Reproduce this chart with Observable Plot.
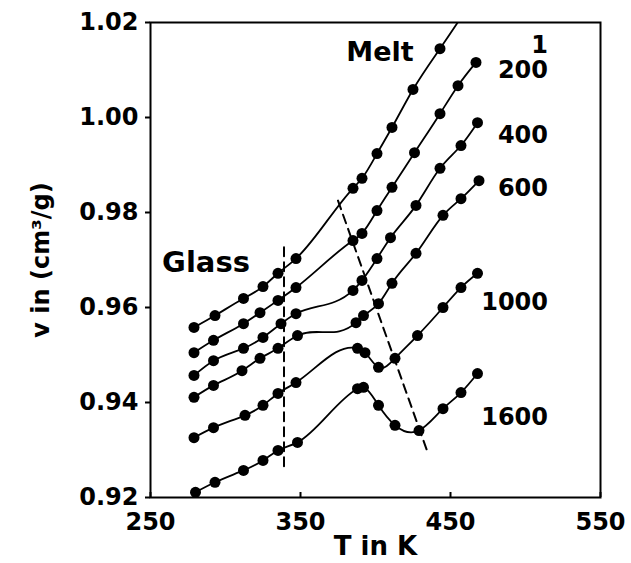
<!DOCTYPE html>
<html>
<head>
<meta charset="utf-8">
<script src="https://cdn.jsdelivr.net/npm/d3@7"></script>
<script src="https://cdn.jsdelivr.net/npm/@observablehq/plot@0.6"></script>
<style>
  html, body { margin: 0; padding: 0; background: #fff; }
  #chart svg { display: block; }
</style>
</head>
<body>
<div id="chart"></div>
<script>
// ---- data ----
const seriesNames = ["1", "200", "400", "600", "1000", "1600"];

const T_1    = [279, 293, 312, 325, 335, 347, 385, 391, 401, 411, 425, 443, 459];
const v_1    = [0.9558, 0.9583, 0.9619, 0.9644, 0.9672, 0.9703, 0.9851, 0.9872, 0.9924, 0.9979, 1.0059, 1.0145, 1.0220];

const T_200  = [279, 292, 312, 323, 335, 347, 385, 391, 401, 411, 426, 443, 455, 467];
const v_200  = [0.9505, 0.9531, 0.9566, 0.9589, 0.9615, 0.9642, 0.9741, 0.9756, 0.9804, 0.9853, 0.9926, 1.0008, 1.0067, 1.0116];

const T_400  = [279, 292, 312, 325, 337, 347, 385, 391, 401, 410, 427, 443, 457, 468];
const v_400  = [0.9457, 0.9488, 0.9514, 0.9537, 0.9566, 0.9587, 0.9636, 0.9657, 0.9703, 0.9747, 0.9815, 0.9893, 0.9941, 0.9989];

const T_600  = [279, 292, 311, 323, 335, 348, 387, 392, 402, 411, 427, 445, 457, 469];
const v_600  = [0.9411, 0.9436, 0.9467, 0.9493, 0.9514, 0.9541, 0.9568, 0.9583, 0.9608, 0.9651, 0.9714, 0.9794, 0.9829, 0.9867];

const T_1000 = [279, 292, 313, 325, 335, 347, 388, 393, 402, 413, 428, 445, 457, 468];
const v_1000 = [0.9326, 0.9347, 0.9373, 0.9394, 0.9419, 0.9442, 0.9514, 0.9505, 0.9474, 0.9493, 0.9541, 0.9600, 0.9642, 0.9672];

const T_1600 = [280, 293, 312, 325, 335, 348, 388, 392, 402, 413, 429, 445, 457, 468];
const v_1600 = [0.9211, 0.9232, 0.9257, 0.9278, 0.9299, 0.9316, 0.9429, 0.9432, 0.9394, 0.9352, 0.9341, 0.9387, 0.9421, 0.9461];

// series label values (v) at right
const labelV = [1.0152, 1.0099, 0.9962, 0.9851, 0.9611, 0.9368];
const labelT = 515;

// dashed guide lines
const glassLineT = [339, 339];
const glassLineV = [0.9727, 0.9256];
const meltLineT  = [375, 435];
const meltLineV  = [0.9825, 0.9293];

const annotations = [
  {text: "Melt",  T: 403, v: 1.0137},
  {text: "Glass", T: 287, v: 0.9695}
];

const xTicks = [250, 350, 450, 550];
const yTicks = [0.92, 0.94, 0.96, 0.98, 1.00, 1.02];
const xDomain = [250, 550];
const yDomain = [0.92, 1.02];

// ---- build tables ----
const Ts = [T_1, T_200, T_400, T_600, T_1000, T_1600];
const Vs = [v_1, v_200, v_400, v_600, v_1000, v_1600];
const points = [];
seriesNames.forEach((s, k) => Ts[k].forEach((t, i) => points.push({series: s, T: t, v: Vs[k][i]})));
const labelRows = seriesNames.map((s, k) => ({text: s, T: labelT, v: labelV[k]}));
const guides = [
  ...glassLineT.map((t, i) => ({g: "glass", T: t, v: glassLineV[i]})),
  ...meltLineT.map((t, i) => ({g: "melt", T: t, v: meltLineV[i]}))
];

// natural cubic spline y(x) curve
function naturalX(context) {
  let xs, ys;
  return {
    areaStart() {}, areaEnd() {},
    lineStart() { xs = []; ys = []; },
    point(x, y) { xs.push(+x); ys.push(+y); },
    lineEnd() {
      const n = xs.length;
      if (!n) return;
      context.moveTo(xs[0], ys[0]);
      if (n === 1) return;
      if (n === 2) { context.lineTo(xs[1], ys[1]); return; }
      const h = [];
      for (let i = 0; i < n - 1; i++) h.push(xs[i + 1] - xs[i]);
      const a = [], b = [], c = [], d = [];
      for (let i = 1; i < n - 1; i++) {
        a.push(h[i - 1]); b.push(2 * (h[i - 1] + h[i])); c.push(h[i]);
        d.push(6 * ((ys[i + 1] - ys[i]) / h[i] - (ys[i] - ys[i - 1]) / h[i - 1]));
      }
      const m = b.length;
      for (let i = 1; i < m; i++) { const w = a[i] / b[i - 1]; b[i] -= w * c[i - 1]; d[i] -= w * d[i - 1]; }
      const sol = new Array(m);
      sol[m - 1] = d[m - 1] / b[m - 1];
      for (let i = m - 2; i >= 0; i--) sol[i] = (d[i] - c[i] * sol[i + 1]) / b[i];
      const M = new Array(n).fill(0);
      for (let i = 0; i < m; i++) M[i + 1] = sol[i];
      const der = i => i < n - 1
        ? (ys[i + 1] - ys[i]) / h[i] - h[i] * (2 * M[i] + M[i + 1]) / 6
        : (ys[n - 1] - ys[n - 2]) / h[n - 2] + h[n - 2] * (M[n - 2] + 2 * M[n - 1]) / 6;
      for (let i = 0; i < n - 1; i++) {
        const d0 = der(i), d1 = der(i + 1), hh = h[i];
        context.bezierCurveTo(xs[i] + hh / 3, ys[i] + d0 * hh / 3, xs[i + 1] - hh / 3, ys[i + 1] - d1 * hh / 3, xs[i + 1], ys[i + 1]);
      }
    }
  };
}

const W = 631, H = 563, mT = 22, mB = 66, mL = 150, mR = 31;
const font = "DejaVu Sans, Liberation Sans, sans-serif";

const chart = Plot.plot({
  width: W,
  height: H,
  marginTop: mT,
  marginBottom: mB,
  marginLeft: mL,
  marginRight: mR,
  style: {fontFamily: font, fontWeight: "bold", background: "#fff", color: "#000"},
  x: {domain: xDomain},
  y: {domain: yDomain},
  marks: [
    Plot.axisY({ticks: yTicks, tickSize: 5, tickPadding: 7, tickFormat: d3.format(".2f"),
      fontSize: 24, fontWeight: "bold", strokeWidth: 2, label: null}),
    Plot.axisX({ticks: xTicks, tickSize: 0, tickPadding: 15, tickFormat: d3.format("d"),
      fontSize: 24, fontWeight: "bold", label: null}),
    Plot.ruleX(xTicks, {x: d => d, insetTop: (H - mT - mB) - 5, strokeWidth: 2, stroke: "#000"}),
    Plot.frame({stroke: "#000", strokeWidth: 2}),
    Plot.line(guides, {x: "T", y: "v", z: "g", stroke: "#000", strokeWidth: 2, strokeDasharray: "9,6"}),
    Plot.line(points, {x: "T", y: "v", z: "series", curve: naturalX, stroke: "#000", strokeWidth: 1.8, clip: true}),
    Plot.dot(points, {x: "T", y: "v", r: 5.5, fill: "#000", stroke: "none", clip: true}),
    Plot.text(labelRows, {x: "T", y: "v", text: "text", textAnchor: "end", fontSize: 24, fontWeight: "bold", letterSpacing: 2, fill: "#000"}),
    Plot.text(annotations.slice(0, 1), {x: "T", y: "v", text: "text", fontSize: 27, fontWeight: "bold", fill: "#000"}),
    Plot.text(annotations.slice(1), {x: "T", y: "v", text: "text", fontSize: 29, fontWeight: "bold", fill: "#000"}),
    Plot.text(["T in K"], {frameAnchor: "bottom", textAnchor: "middle", dy: 57, fontSize: 26, fontWeight: "bold", fill: "#000"}),
    Plot.text(["v in (cm³/g)"], {frameAnchor: "left", textAnchor: "middle", dx: -109, rotate: -90, fontSize: 24, fontWeight: "bold", fill: "#000"})
  ]
});
document.getElementById("chart").appendChild(chart);
</script>
</body>
</html>
